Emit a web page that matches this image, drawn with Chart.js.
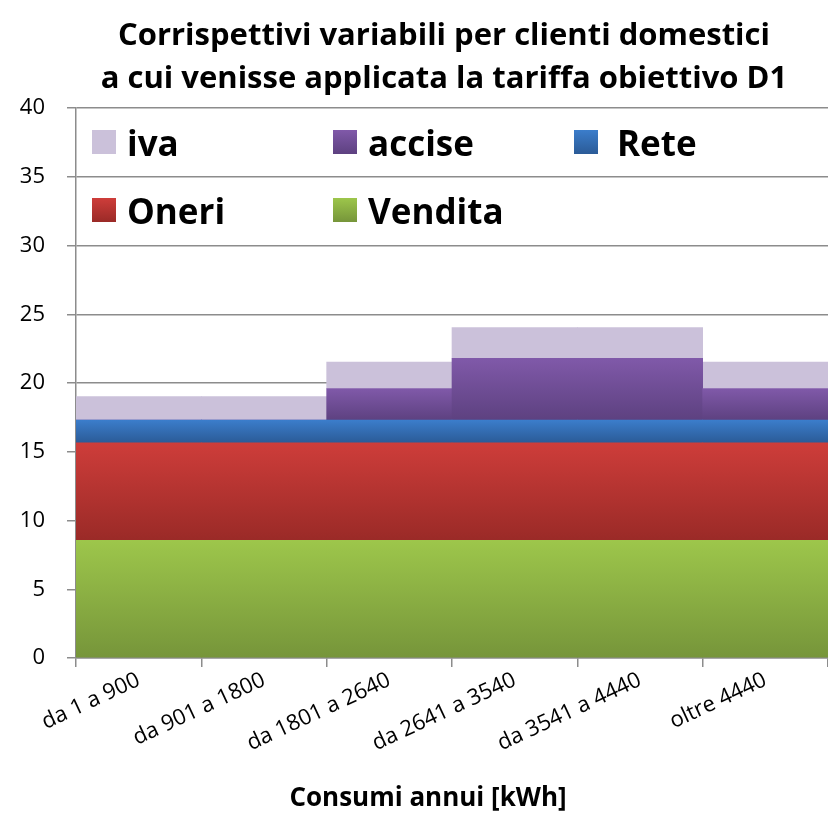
<!DOCTYPE html>
<html>
<head>
<meta charset="utf-8">
<script src="https://cdn.jsdelivr.net/npm/chart.js@4.4.0/dist/chart.umd.min.js"></script>
<style>
  html, body { margin: 0; padding: 0; background: #fff; }
  #wrap { width: 828px; height: 816px; }
</style>
</head>
<body>
<div id="wrap"><canvas id="chart"></canvas></div>
<script>
const categories = ['da 1 a 900', 'da 901 a 1800', 'da 1801 a 2640', 'da 2641 a 3540', 'da 3541 a 4440', 'oltre 4440'];
const vendita = [8.55, 8.55, 8.55, 8.55, 8.55, 8.55];
const oneri = [7.1, 7.1, 7.1, 7.1, 7.1, 7.1];
const rete = [1.65, 1.65, 1.65, 1.65, 1.65, 1.65];
const accise = [0, 0, 2.3, 4.5, 4.5, 2.3];
const iva = [1.72, 1.72, 1.93, 2.23, 2.23, 1.93];

const titleLines = ['Corrispettivi variabili per clienti domestici', 'a cui venisse applicata la tariffa obiettivo D1'];
const xTitle = 'Consumi annui [kWh]';

const FONT = '"Open Sans"';
Chart.defaults.font.family = FONT;
Chart.defaults.color = '#000';

// vertical gradient over each stacked segment
function grad(top, bottom) {
  return (c) => {
    const chart = c.chart;
    if (!chart.chartArea || c.type !== 'data') return top;
    const y = chart.scales.y;
    let start = 0;
    for (let d = 0; d < c.datasetIndex; d++) start += chart.data.datasets[d].data[c.dataIndex];
    const end = start + chart.data.datasets[c.datasetIndex].data[c.dataIndex];
    const y0 = y.getPixelForValue(end);
    const y1 = y.getPixelForValue(start);
    if (!(y1 > y0)) return top;
    const g = chart.ctx.createLinearGradient(0, y0, 0, y1);
    g.addColorStop(0, top);
    g.addColorStop(1, bottom);
    return g;
  };
}

function makeSet(label, data, top, bottom) {
  return {
    label, data,
    topColor: top, bottomColor: bottom,
    backgroundColor: grad(top, bottom),
    borderWidth: 0,
    categoryPercentage: 1,
    barPercentage: 1
  };
}

// legend drawn inside the plot, three fixed columns
const boxLegend = {
  id: 'boxLegend',
  afterDraw(chart) {
    const { ctx, chartArea } = chart;
    const sets = chart.data.datasets.slice().reverse();
    ctx.save();
    ctx.font = 'bold 35px ' + FONT;
    ctx.textBaseline = 'alphabetic';
    sets.forEach((ds, k) => {
      const x = chartArea.left + 16 + (k % 3) * 241;
      const y = chartArea.top + 34 + Math.floor(k / 3) * 68;
      const g = ctx.createLinearGradient(0, y - 12, 0, y + 12);
      g.addColorStop(0, ds.topColor);
      g.addColorStop(1, ds.bottomColor);
      ctx.fillStyle = g;
      ctx.fillRect(x, y - 12, 24, 24);
      ctx.fillStyle = '#000';
      ctx.fillText(ds.label, x + (k === 2 ? 43 : 35), y + 14);
    });
    ctx.restore();
  }
};

// chart title and x axis title
const texts = {
  id: 'texts',
  afterDraw(chart) {
    const { ctx, chartArea } = chart;
    ctx.save();
    ctx.fillStyle = '#000';
    ctx.textAlign = 'center';
    ctx.textBaseline = 'alphabetic';
    ctx.font = 'bold 31px ' + FONT;
    titleLines.forEach((t, i) => ctx.fillText(t, 444, 45 + i * 43));
    ctx.font = 'bold 26px ' + FONT;
    ctx.fillText(xTitle, (chartArea.left + chartArea.right) / 2 - 24, 806);
    ctx.restore();
  }
};

new Chart(document.getElementById('chart'), {
  type: 'bar',
  data: {
    labels: categories,
    datasets: [
      makeSet('Vendita', vendita, '#9DC64B', '#76953A'),
      makeSet('Oneri', oneri, '#CE3D3A', '#9A2A27'),
      makeSet('Rete', rete, '#3B7DCB', '#2B5B97'),
      makeSet('accise', accise, '#8059A9', '#5D4180'),
      makeSet('iva', iva, '#CBC1DA', '#CBC1DA')
    ]
  },
  options: {
    responsive: true,
    maintainAspectRatio: false,
    animation: false,
    layout: { padding: { left: 0, right: 0, top: 108, bottom: 0 } },
    plugins: {
      legend: { display: false },
      tooltip: { enabled: false },
      title: { display: false }
    },
    scales: {
      x: {
        stacked: true,
        grid: { drawOnChartArea: false, color: '#8c8c8c', lineWidth: 1.5, tickLength: 9, offset: true },
        border: { color: '#8c8c8c', width: 1.5 },
        ticks: { minRotation: 25, maxRotation: 25, font: { size: 22 }, padding: 0 },
        afterFit: (s) => { s.height = 158; }
      },
      y: {
        stacked: true,
        min: 0,
        max: 40,
        ticks: { stepSize: 5, font: { size: 22 }, padding: 22 },
        grid: { color: '#8c8c8c', lineWidth: 1.5, tickLength: 9 },
        border: { color: '#8c8c8c', width: 1.5 },
        afterFit: (s) => { s.width = 76; }
      }
    }
  },
  plugins: [boxLegend, texts]
});
</script>
</body>
</html>
